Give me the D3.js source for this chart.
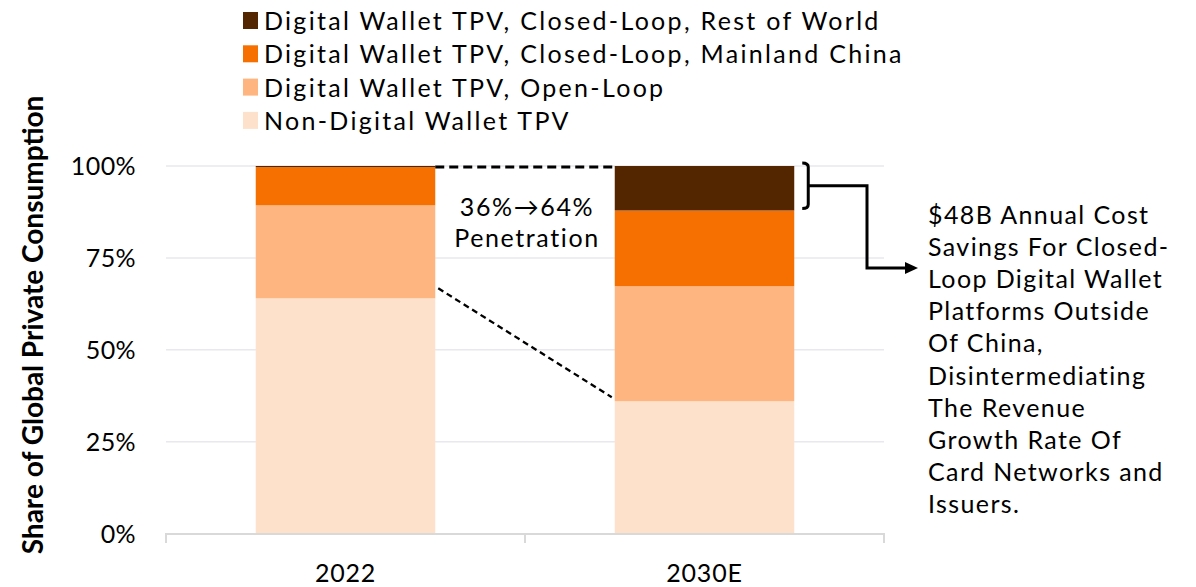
<!DOCTYPE html>
<html>
<head>
<meta charset="utf-8">
<script src="https://cdn.jsdelivr.net/npm/d3@7"></script>
<style>
  html, body { margin: 0; padding: 0; background: #fff; }
  svg { display: block; font-family: Lato, "Noto Sans", sans-serif; }
</style>
</head>
<body>
<svg id="chart" width="1196" height="587"></svg>
<script>
// Share of global private consumption by payment type (fractions of 1)
const categories = ["2022", "2030E"];
const nonDigital   = [0.640, 0.360];
const openLoop     = [0.253, 0.313];
const closedChina  = [0.104, 0.206];
const closedRoW    = [0.003, 0.121];

const seriesNames = [
  "Non-Digital Wallet TPV",
  "Digital Wallet TPV, Open-Loop",
  "Digital Wallet TPV, Closed-Loop, Mainland China",
  "Digital Wallet TPV, Closed-Loop, Rest of World"
];
const seriesColors = ["#fde1cb", "#ffb57f", "#f57000", "#532600"];
const tickValues = [0, 0.25, 0.5, 0.75, 1];

const penetrationLines = ["36%\u219264%", "Penetration"];
const noteLines = [
  "$48B Annual Cost",
  "Savings For Closed-",
  "Loop Digital Wallet",
  "Platforms Outside",
  "Of China,",
  "Disintermediating",
  "The Revenue",
  "Growth Rate Of",
  "Card Networks and",
  "Issuers."
];

const svg = d3.select("#chart");
const fs = 25;

const rows = categories.map((c, i) => ({
  cat: c,
  s0: nonDigital[i], s1: openLoop[i], s2: closedChina[i], s3: closedRoW[i]
}));
const stack = d3.stack().keys(["s0", "s1", "s2", "s3"])(rows);

const x = d3.scaleBand().domain(categories).range([166, 884])
  .paddingInner(0.5).paddingOuter(0.25);
const y = d3.scaleLinear().domain([0, 1]).range([533.5, 166]);

// gridlines
svg.append("g").selectAll("line").data(tickValues.filter(d => d > 0)).join("line")
  .attr("x1", 166).attr("x2", 884)
  .attr("y1", d => y(d)).attr("y2", d => y(d))
  .attr("stroke", "#e8e8ee").attr("stroke-width", 1.5);

// y tick labels
svg.append("g").selectAll("text").data(tickValues).join("text")
  .attr("x", 136).attr("y", d => y(d) + 9)
  .attr("text-anchor", "end")
  .attr("font-size", fs).attr("letter-spacing", 0.4).attr("fill", "#000")
  .text(d => d3.format(".0%")(d));

// stacked bars
svg.append("g").selectAll("g").data(stack).join("g")
  .attr("fill", (d, i) => seriesColors[i])
  .selectAll("rect").data(d => d).join("rect")
  .attr("x", d => x(d.data.cat))
  .attr("width", x.bandwidth())
  .attr("y", d => y(d[1]))
  .attr("height", d => y(d[0]) - y(d[1]));

// x axis
const xAxis = svg.append("g");
xAxis.append("line").attr("x1", 166).attr("x2", 884)
  .attr("y1", 534).attr("y2", 534).attr("stroke", "#d9d9d9").attr("stroke-width", 2);
const boundaries = [166, (x(categories[0]) + x.bandwidth() + x(categories[1])) / 2, 884];
xAxis.selectAll("line.tk").data(boundaries).join("line").attr("class", "tk")
  .attr("x1", d => d).attr("x2", d => d)
  .attr("y1", 533).attr("y2", 543)
  .attr("stroke", "#d9d9d9").attr("stroke-width", 2);
xAxis.selectAll("text").data(categories).join("text")
  .attr("x", d => x(d) + x.bandwidth() / 2).attr("y", 582)
  .attr("text-anchor", "middle").attr("font-size", fs).attr("letter-spacing", 0.8)
  .text(d => d);

// y axis title
svg.append("text")
  .attr("transform", "translate(43,325) rotate(-90)")
  .attr("text-anchor", "middle")
  .attr("font-size", 28).attr("font-weight", "bold")
  .text("Share of Global Private Consumption");

// legend (top-most series first)
const legend = svg.append("g");
const legendOrder = [3, 2, 1, 0];
legendOrder.forEach((si, k) => {
  legend.append("rect").attr("x", 243).attr("y", 12 + k * 33.3)
    .attr("width", 15).attr("height", 17).attr("fill", seriesColors[si]);
  legend.append("text").attr("x", 264).attr("y", 30 + k * 33.3)
    .attr("font-size", fs).attr("letter-spacing", 2.3).text(seriesNames[si]);
});

// penetration connectors
const bar1Right = x(categories[0]) + x.bandwidth();
const bar2Left = x(categories[1]);
svg.append("line")
  .attr("x1", bar1Right).attr("x2", bar2Left)
  .attr("y1", y(1) + 1).attr("y2", y(1) + 1)
  .attr("stroke", "#000").attr("stroke-width", 3)
  .attr("stroke-dasharray", "9,5");
svg.append("line")
  .attr("x1", bar1Right + 3).attr("y1", y(nonDigital[0]) - 10)
  .attr("x2", bar2Left - 3).attr("y2", y(nonDigital[1]) - 4)
  .attr("stroke", "#000").attr("stroke-width", 2.3)
  .attr("stroke-dasharray", "6,4");

svg.append("g").selectAll("text").data(penetrationLines).join("text")
  .attr("x", 527).attr("y", (d, i) => 216 + i * 31)
  .attr("text-anchor", "middle").attr("font-size", fs).attr("letter-spacing", 1.6)
  .text(d => d);

// bracket around 2030E rest-of-world segment with elbow arrow
const bTop = y(1) - 3;
const bBot = y(1 - closedRoW[1]) - 2;
const bMid = (bTop + bBot) / 2;
const bx = x(categories[1]) + x.bandwidth() + 8;
svg.append("path")
  .attr("d", `M${bx},${bTop} Q${bx + 6},${bTop} ${bx + 6},${bTop + 4} L${bx + 6},${bBot - 4} Q${bx + 6},${bBot} ${bx},${bBot}`)
  .attr("fill", "none").attr("stroke", "#000").attr("stroke-width", 3);
svg.append("path")
  .attr("d", `M${bx + 6},${bMid} H867 V268 H907`)
  .attr("fill", "none").attr("stroke", "#000").attr("stroke-width", 3);
svg.append("path")
  .attr("d", "M905,262 L918,268 L905,274 Z")
  .attr("fill", "#000");

svg.append("g").selectAll("text").data(noteLines).join("text")
  .attr("x", 928).attr("y", (d, i) => 224 + i * 32.1)
  .attr("font-size", fs).attr("letter-spacing", 1.4).text(d => d);
</script>
</body>
</html>
